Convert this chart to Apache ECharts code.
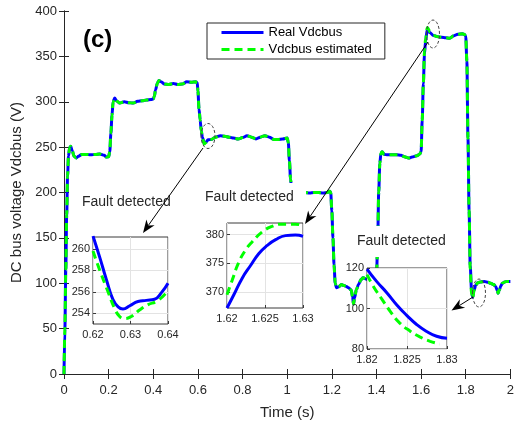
<!DOCTYPE html>
<html><head><meta charset="utf-8">
<script src="https://cdn.jsdelivr.net/npm/echarts@6/dist/echarts.min.js"></script>
<style>html,body{margin:0;padding:0;background:#fff}#c{width:517px;height:425px}</style>
</head><body><div id="c"></div>
<script>
// ---- main curve (time in s, voltage in V) ----
const time = [
  0, 0.004, 0.008, 0.012, 0.016, 0.02, 0.025, 0.03, 0.037, 0.045,
  0.055, 0.065, 0.08, 0.1, 0.12, 0.14, 0.16, 0.18, 0.19, 0.2,
  0.205, 0.21, 0.215, 0.22, 0.227, 0.235, 0.25, 0.27, 0.29, 0.31,
  0.33, 0.35, 0.37, 0.39, 0.4, 0.405, 0.41, 0.418, 0.425, 0.435,
  0.45, 0.47, 0.49, 0.51, 0.53, 0.55, 0.57, 0.59, 0.597, 0.6,
  0.605, 0.61, 0.615, 0.62, 0.628, 0.636, 0.645, 0.66, 0.68, 0.7,
  0.72, 0.74, 0.76, 0.78, 0.8, 0.82, 0.84, 0.86, 0.88, 0.9,
  0.92, 0.94, 0.96, 0.98, 1.0, 1.005, 1.01, 1.015, 1.02, 1.03,
  1.04, 1.06, 1.08, 1.1, 1.12, 1.14, 1.16, 1.18, 1.19, 1.195,
  1.2, 1.205, 1.21, 1.215, 1.221, 1.23, 1.243, 1.255, 1.265, 1.275,
  1.287, 1.293, 1.297, 1.302, 1.31, 1.32, 1.331, 1.34, 1.36, 1.38,
  1.395, 1.4, 1.405, 1.41, 1.415, 1.42, 1.425, 1.435, 1.45, 1.47,
  1.49, 1.51, 1.525, 1.544, 1.56, 1.581, 1.595, 1.6, 1.605, 1.61,
  1.615, 1.62, 1.628, 1.64, 1.655, 1.67, 1.692, 1.71, 1.728, 1.745,
  1.765, 1.785, 1.795, 1.8, 1.805, 1.81, 1.815, 1.82, 1.826, 1.831,
  1.837, 1.845, 1.853, 1.865, 1.883, 1.9, 1.912, 1.925, 1.934, 1.941,
  1.945, 1.95, 1.957, 1.964, 1.975, 1.985, 2.0
];
const realVdc = [
  0, 50, 115, 175, 218, 240, 249, 251, 246, 240,
  238, 240, 242, 242, 241.5, 242, 242.5, 241, 239, 239.5,
  245, 265, 285, 300, 304, 301, 298.5, 300, 299, 298.5,
  300.5, 301, 302, 302.5, 303, 306, 313, 320, 323.5, 322,
  319.5, 319, 320, 319, 319.5, 322, 321.5, 322, 321, 312,
  292, 280, 268, 261, 254.4, 255.3, 258, 258.5, 261, 262.5,
  262, 261, 260, 259, 260.5, 262.5, 261, 259, 261, 262.5,
  261, 258.5, 258.5, 259, 260, 255, 235, 215, 203, 199,
  200, 200, 200, 199.5, 200, 200, 199.5, 200, 201.5, 200,
  180, 150, 120, 100, 95, 96, 98.5, 97.5, 96.5, 95,
  92.5, 85, 77, 84, 93, 99, 104, 106, 104, 103,
  104, 108, 140, 200, 232, 243, 245, 242, 241.5, 241.5,
  241.5, 241, 239.5, 238, 239, 240.5, 242.5, 245, 280, 320,
  352, 367, 379.8, 376, 373, 372, 371, 370.5, 370, 372.5,
  374.5, 375, 374, 372, 345, 260, 180, 119.5, 92, 84.5,
  92, 98, 100.5, 101.5, 102, 101, 100, 98.5, 96.5, 92,
  89, 92, 97, 100, 101.5, 102, 102
];
const estVdc = [
  0, 50, 115, 175, 218, 240, 249, 251, 246, 240,
  238, 240, 242, 242, 241.5, 242, 242.5, 241, 239, 239.5,
  245, 265, 285, 300, 304, 301, 298.5, 300, 299, 298.5,
  300.5, 301, 302, 302.5, 303, 306, 313, 320, 323.5, 322,
  319.5, 319, 320, 319, 319.5, 322, 321.5, 322, 321, 312,
  292, 280, 268, 259.8, 253.5, 255.1, 258, 258.5, 261, 262.5,
  262, 261, 260, 259, 260.5, 262.5, 261, 259, 261, 262.5,
  261, 258.5, 258.5, 259, 260, 255, 235, 215, 203, 199,
  200, 200, 200, 199.5, 200, 200, 199.5, 200, 201.5, 200,
  180, 150, 120, 100, 95, 96, 98.5, 97.5, 96.5, 95,
  92.5, 85, 77, 84, 93, 99, 104, 106, 104, 103,
  104, 108, 140, 200, 232, 243, 245, 242, 241.5, 241.5,
  241.5, 241, 239.5, 238, 239, 240.5, 242.5, 245, 280, 320,
  356, 369.5, 381.8, 377, 373, 372, 371, 370.5, 370, 372.5,
  374.5, 375, 374, 372, 345, 260, 180, 116.7, 87.5, 83,
  92, 98, 100.5, 101.5, 102, 101, 100, 98.5, 96.5, 92,
  89, 92, 97, 100, 101.5, 102, 102
];

// ---- zoomed insets ----
const inset1Time = [0.62, 0.6218, 0.6236, 0.6253, 0.6267, 0.628, 0.6298, 0.632, 0.6342, 0.6364, 0.6382, 0.64];
const inset1Real = [261.2, 259.2, 257.1, 255.3, 254.6, 254.4, 254.7, 255.1, 255.2, 255.3, 255.9, 256.8];
const inset1EstTime = [0.62, 0.6218, 0.624, 0.6257, 0.6271, 0.6284, 0.6302, 0.6324, 0.6347, 0.6369, 0.6387, 0.64];
const inset1Est = [259.8, 258, 256, 254.5, 253.7, 253.5, 253.7, 254.3, 254.8, 255.1, 255.6, 256.1];

const inset2Time = [1.62, 1.6209, 1.622, 1.6231, 1.6242, 1.6253, 1.6264, 1.6277, 1.629, 1.63];
const inset2Real = [367.2, 369.5, 372.4, 374.6, 376.7, 378.1, 379.1, 379.8, 379.9, 379.7];
const inset2EstTime = [1.62, 1.6207, 1.6215, 1.6224, 1.6233, 1.6246, 1.6259, 1.6272, 1.629, 1.63];
const inset2Est = [369.5, 372.1, 375, 377.2, 378.7, 380.4, 381.4, 381.8, 381.8, 381.5];

const inset3Time = [1.82, 1.8212, 1.8225, 1.8237, 1.825, 1.8262, 1.8274, 1.8287, 1.83];
const inset3Real = [119.5, 113.4, 107.7, 101.9, 96.5, 92.1, 88.8, 86.3, 85.3];
const inset3EstTime = [1.82, 1.8208, 1.8219, 1.8229, 1.8241, 1.8254, 1.8266, 1.8279, 1.8291];
const inset3Est = [116.7, 110.9, 104.4, 98.6, 92.8, 88.8, 86, 83.8, 82.5];

// tick values
const inset1XTicks = [0.62, 0.63, 0.64];
const inset1YTicks = [254, 256, 258, 260];
const inset2XTicks = [1.62, 1.625, 1.63];
const inset2YTicks = [370, 375, 380];
const inset3XTicks = [1.82, 1.825, 1.83];
const inset3YTicks = [80, 100, 120];

const seriesNames = ['Real Vdcbus', 'Vdcbus estimated'];
const FONT = '"Liberation Sans", Arial, sans-serif';
const TXT = '#262626';
const BLUE = '#0000ff', GREEN = '#00ff00';

const zip = (xs, ys) => xs.map((x, i) => [x, ys[i]]);

const chart = echarts.init(document.getElementById('c'), null, {renderer: 'canvas'});

const insetGrids = [
  {left: 93, top: 237, width: 75, height: 87},
  {left: 227, top: 223, width: 76, height: 85},
  {left: 367, top: 268, width: 80, height: 81}
];
const insetX = [[0.62, 0.64, inset1XTicks], [1.62, 1.63, inset2XTicks], [1.82, 1.83, inset3XTicks]];
const insetY = [[253, 261.1, inset1YTicks], [367.2, 382, inset2YTicks], [80, 120, inset3YTicks]];

const grids = [{left: 64, top: 11, width: 452, height: 363, show: false}].concat(
  insetGrids.map(g => Object.assign({show: true, backgroundColor: '#fff', borderColor: '#3a3a3a', borderWidth: 1, z: 5}, g))
);

const mainAxisCommon = {
  axisLine: {show: true, lineStyle: {color: TXT, width: 1}},
  axisTick: {show: true, inside: true, length: 5, lineStyle: {color: TXT}},
  splitLine: {show: false}
};

const xAxes = [
  Object.assign({type: 'value', gridIndex: 0, min: 0, max: 2, interval: 0.2, position: 'bottom',
    name: 'Time (s)', nameLocation: 'middle', nameGap: 31,
    nameTextStyle: {fontSize: 15, color: TXT, fontFamily: FONT},
    axisLabel: {fontSize: 13, color: TXT, fontFamily: FONT, margin: 10}}, mainAxisCommon),
  Object.assign({type: 'value', gridIndex: 0, min: 0, max: 2, interval: 0.2, position: 'top',
    axisLabel: {show: false}}, mainAxisCommon)
];
const yAxes = [
  Object.assign({type: 'value', gridIndex: 0, min: 0, max: 400, interval: 50, position: 'left',
    name: 'DC bus voltage Vdcbus (V)', nameLocation: 'middle', nameGap: 33,
    nameTextStyle: {fontSize: 15, color: TXT, fontFamily: FONT},
    axisLabel: {fontSize: 13, color: TXT, fontFamily: FONT, margin: 7}}, mainAxisCommon),
  Object.assign({type: 'value', gridIndex: 0, min: 0, max: 400, interval: 50, position: 'right',
    axisLabel: {show: false}}, mainAxisCommon)
];
insetX.forEach((ax, i) => {
  xAxes.push({type: 'value', gridIndex: i + 1, min: ax[0], max: ax[1], z: 6,
    axisLine: {show: false},
    axisTick: {show: true, inside: true, length: 3, customValues: ax[2], lineStyle: {color: '#3a3a3a'}},
    axisLabel: {fontSize: 11, color: TXT, fontFamily: FONT, margin: 5, customValues: ax[2]},
    splitLine: {show: true, lineStyle: {color: '#e3e3e3', width: 1}}});
});
insetY.forEach((ax, i) => {
  yAxes.push({type: 'value', gridIndex: i + 1, min: ax[0], max: ax[1], z: 6,
    axisLine: {show: false},
    axisTick: {show: true, inside: true, length: 3, customValues: ax[2], lineStyle: {color: '#3a3a3a'}},
    axisLabel: {fontSize: 11, color: TXT, fontFamily: FONT, margin: 3, customValues: ax[2]},
    splitLine: {show: true, lineStyle: {color: '#e3e3e3', width: 1}}});
});

function lineSeries(name, data, idx, dashed, z, smooth, mono) {
  const s = {
    type: 'line', name: name, data: data, xAxisIndex: idx, yAxisIndex: idx,
    symbol: 'none', showSymbol: false, z: z, smooth: smooth,
    animation: false, clip: true,
    lineStyle: {color: dashed ? GREEN : BLUE, width: 3, type: dashed ? [8, 5] : 'solid'},
    itemStyle: {color: dashed ? GREEN : BLUE, opacity: 0}
  };
  if (mono) s.smoothMonotone = 'x';
  return s;
}

const series = [
  lineSeries(seriesNames[0], zip(time, realVdc), 0, false, 2, 0.3, true),
  lineSeries(seriesNames[1], zip(time, estVdc), 0, true, 3, 0.3, true),
  lineSeries(seriesNames[0], zip(inset1Time, inset1Real), 2, false, 7, 0.5, false),
  lineSeries(seriesNames[1], zip(inset1EstTime, inset1Est), 2, true, 8, 0.5, false),
  lineSeries(seriesNames[0], zip(inset2Time, inset2Real), 3, false, 7, 0.5, false),
  lineSeries(seriesNames[1], zip(inset2EstTime, inset2Est), 3, true, 8, 0.5, false),
  lineSeries(seriesNames[0], zip(inset3Time, inset3Real), 4, false, 7, 0.5, false),
  lineSeries(seriesNames[1], zip(inset3EstTime, inset3Est), 4, true, 8, 0.5, false)
];

// ---- annotations ----
function arrow(x1, y1, x2, y2) {
  const dx = x2 - x1, dy = y2 - y1, len = Math.hypot(dx, dy);
  const ux = dx / len, uy = dy / len, nx = -uy, ny = ux;
  const L = 13, W = 5;
  const bx = x2 - ux * L, by = y2 - uy * L;
  const mx = x2 - ux * L * 0.7, my = y2 - uy * L * 0.7;
  return [
    {type: 'line', z: 9, shape: {x1: x1, y1: y1, x2: mx, y2: my}, style: {stroke: '#000', lineWidth: 1}},
    {type: 'polygon', z: 9, shape: {points: [[x2, y2], [bx + nx * W, by + ny * W], [mx, my], [bx - nx * W, by - ny * W]]},
      style: {fill: '#000'}}
  ];
}
function ellipse(cx, cy, rx, ry) {
  return {type: 'ellipse', z: 9, shape: {cx: cx, cy: cy, rx: rx, ry: ry},
    style: {fill: 'none', stroke: '#444', lineWidth: 1, lineDash: [3, 2]}};
}
function label(text, x, y, size, bold) {
  return {type: 'text', z: 9, x: x, y: y,
    style: {text: text, fill: bold ? '#000' : TXT, font: (bold ? 'bold ' : '') + size + 'px ' + FONT,
      textAlign: 'left', textVerticalAlign: 'middle'}};
}
function whiteBox(x, y, w, h) {
  return {type: 'rect', z: 4, shape: {x: x, y: y, width: w, height: h}, style: {fill: '#fff'}};
}

const graphics = [
  whiteBox(200, 183, 106, 29),
  whiteBox(352, 226, 98, 31),
  label('(c)', 83, 40, 24, true),
  label('Fault detected', 82, 202, 14, false),
  label('Fault detected', 205, 197, 14, false),
  label('Fault detected', 357, 241, 14, false),
  ellipse(208, 136, 7, 12.5),
  ellipse(433, 34, 6.5, 14),
  ellipse(479, 293, 6.5, 14)
].concat(arrow(203, 148, 143, 233), arrow(428, 42, 305, 224), arrow(473, 297, 451.5, 310.5));

chart.setOption({
  animation: false,
  backgroundColor: '#fff',
  textStyle: {fontFamily: FONT},
  grid: grids,
  xAxis: xAxes,
  yAxis: yAxes,
  legend: {
    data: seriesNames, orient: 'vertical', left: 207, top: 23,
    padding: [3, 13, 3, 13], itemGap: 4, itemWidth: 42, itemHeight: 14,
    itemStyle: {opacity: 0}, lineStyle: {width: 3},
    backgroundColor: '#fff', borderColor: '#262626', borderWidth: 1, borderRadius: 0,
    textStyle: {fontSize: 13, color: '#000', fontFamily: FONT}, selectedMode: false, z: 10
  },
  series: series,
  graphic: {elements: graphics}
});
</script>
</body></html>
